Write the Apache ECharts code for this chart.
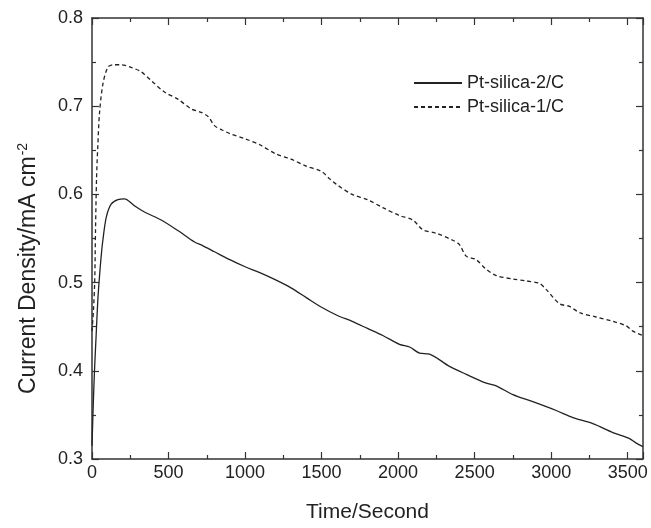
<!DOCTYPE html>
<html>
<head>
<meta charset="utf-8">
<script src="https://cdn.jsdelivr.net/npm/echarts@6/dist/echarts.min.js"></script>
<style>
html,body{margin:0;padding:0;background:#fff;}
#chart{width:651px;height:528px;}
</style>
</head>
<body>
<div id="chart"></div>
<script>
var seriesNames = ['Pt-silica-2/C', 'Pt-silica-1/C'];
var xTicks = [0, 500, 1000, 1500, 2000, 2500, 3000, 3500];
var yTicks = [0.3, 0.4, 0.5, 0.6, 0.7, 0.8];

var time2 = [0, 8, 16, 27, 38, 49, 60, 71, 93, 125, 169, 212, 278, 343, 452, 561, 670, 722, 800, 900, 1000, 1100, 1200, 1300, 1400, 1500, 1600, 1700, 1800, 1900, 2009, 2075, 2140, 2205, 2336, 2445, 2576, 2641, 2750, 2880, 3033, 3142, 3272, 3403, 3512, 3556, 3600];
var current2 = [0.315, 0.36, 0.399, 0.44, 0.48, 0.507, 0.53, 0.548, 0.574, 0.589, 0.594, 0.595, 0.587, 0.580, 0.571, 0.559, 0.546, 0.542, 0.535, 0.526, 0.518, 0.511, 0.503, 0.494, 0.483, 0.472, 0.463, 0.456, 0.448, 0.440, 0.430, 0.427, 0.420, 0.419, 0.405, 0.396, 0.386, 0.383, 0.373, 0.365, 0.355, 0.347, 0.340, 0.330, 0.323, 0.318, 0.314];

var time1 = [0, 10, 18, 23, 30, 38, 49, 71, 103, 136, 191, 256, 321, 387, 474, 561, 648, 713, 760, 800, 850, 900, 1000, 1100, 1200, 1300, 1400, 1500, 1550, 1600, 1700, 1800, 1900, 2009, 2096, 2161, 2249, 2357, 2401, 2445, 2510, 2576, 2641, 2750, 2837, 2924, 2968, 3055, 3120, 3185, 3294, 3403, 3490, 3534, 3600];
var current1 = [0.445, 0.47, 0.504, 0.56, 0.62, 0.655, 0.692, 0.725, 0.744, 0.747, 0.747, 0.744, 0.739, 0.729, 0.716, 0.708, 0.697, 0.693, 0.688, 0.678, 0.673, 0.669, 0.663, 0.656, 0.646, 0.640, 0.632, 0.626, 0.618, 0.611, 0.600, 0.594, 0.585, 0.576, 0.571, 0.560, 0.556, 0.548, 0.543, 0.530, 0.526, 0.515, 0.508, 0.504, 0.502, 0.499, 0.492, 0.476, 0.473, 0.466, 0.461, 0.456, 0.451, 0.445, 0.440];

function pairs(t, v) { return t.map(function (x, i) { return [x, v[i]]; }); }

var axisColor = '#333';
var font = 'Liberation Sans, Arial, sans-serif';

function xAx(pos, showLabel) {
  return {
    type: 'value', position: pos, min: 0, max: 3600, interval: 500,
    name: showLabel ? 'Time/Second' : '', nameLocation: 'middle', nameGap: 43,
    nameTextStyle: { fontFamily: font, fontSize: 21, color: '#222' },
    axisLine: { show: true, onZero: false, lineStyle: { color: axisColor, width: 1.5 } },
    axisTick: { show: true, inside: true, length: 7, lineStyle: { color: axisColor, width: 1.2 } },
    minorTick: { show: true, splitNumber: 2, length: 4, lineStyle: { color: axisColor, width: 1.2 } },
    axisLabel: { show: showLabel, fontFamily: font, fontSize: 18, color: '#222', margin: 5,
      formatter: function (v) { return xTicks.indexOf(v) >= 0 ? String(v) : ''; } },
    splitLine: { show: false }
  };
}
function yAx(pos, showLabel) {
  return {
    type: 'value', position: pos, min: 0.3, max: 0.8, interval: 0.1,
    name: showLabel ? '{a|Current Density/mA cm}{s|-2}' : '', nameLocation: 'middle', nameGap: 50, nameRotate: 90,
    nameTextStyle: { fontFamily: font, fontSize: 23, color: '#222', padding: [0, 60, 0, 0],
      rich: { a: { fontFamily: font, fontSize: 23, color: '#222' },
              s: { fontFamily: font, fontSize: 14, color: '#222', verticalAlign: 'top', padding: [0, 0, 12, 1] } } },
    axisLine: { show: true, onZero: false, lineStyle: { color: axisColor, width: 1.5 } },
    axisTick: { show: true, inside: true, length: 7, lineStyle: { color: axisColor, width: 1.2 } },
    minorTick: { show: true, splitNumber: 2, length: 4, lineStyle: { color: axisColor, width: 1.2 } },
    axisLabel: { show: showLabel, fontFamily: font, fontSize: 18, color: '#222', margin: 9,
      formatter: function (v) {
        var r = Math.round(v * 10) / 10;
        return yTicks.indexOf(r) >= 0 ? r.toFixed(1) : '';
      } },
    splitLine: { show: false }
  };
}

var chart = echarts.init(document.getElementById('chart'), null, { renderer: 'canvas' });
chart.setOption({
  backgroundColor: '#fff',
  animation: false,
  grid: { left: 92, right: 8, top: 18, bottom: 62 },
  legend: {
    left: 408, top: 69, orient: 'vertical', itemWidth: 48, itemHeight: 14, itemGap: 6,
    itemStyle: { opacity: 0 },
    textStyle: { fontFamily: font, fontSize: 18, color: '#222', padding: [0, 0, 0, 0] },
    data: seriesNames
  },
  xAxis: [xAx('bottom', true), xAx('top', false)],
  yAxis: [yAx('left', true), yAx('right', false)],
  series: [
    { name: seriesNames[0], type: 'line', xAxisIndex: 0, yAxisIndex: 0, symbol: 'none', smooth: 0.3,
      lineStyle: { color: '#222', width: 1.3, type: 'solid' }, itemStyle: { color: '#222' },
      data: pairs(time2, current2) },
    { name: seriesNames[1], type: 'line', xAxisIndex: 0, yAxisIndex: 0, symbol: 'none', smooth: 0.3,
      lineStyle: { color: '#222', width: 1.3, type: [4, 3] }, itemStyle: { color: '#222' },
      data: pairs(time1, current1) }
  ]
});
</script>
</body>
</html>
